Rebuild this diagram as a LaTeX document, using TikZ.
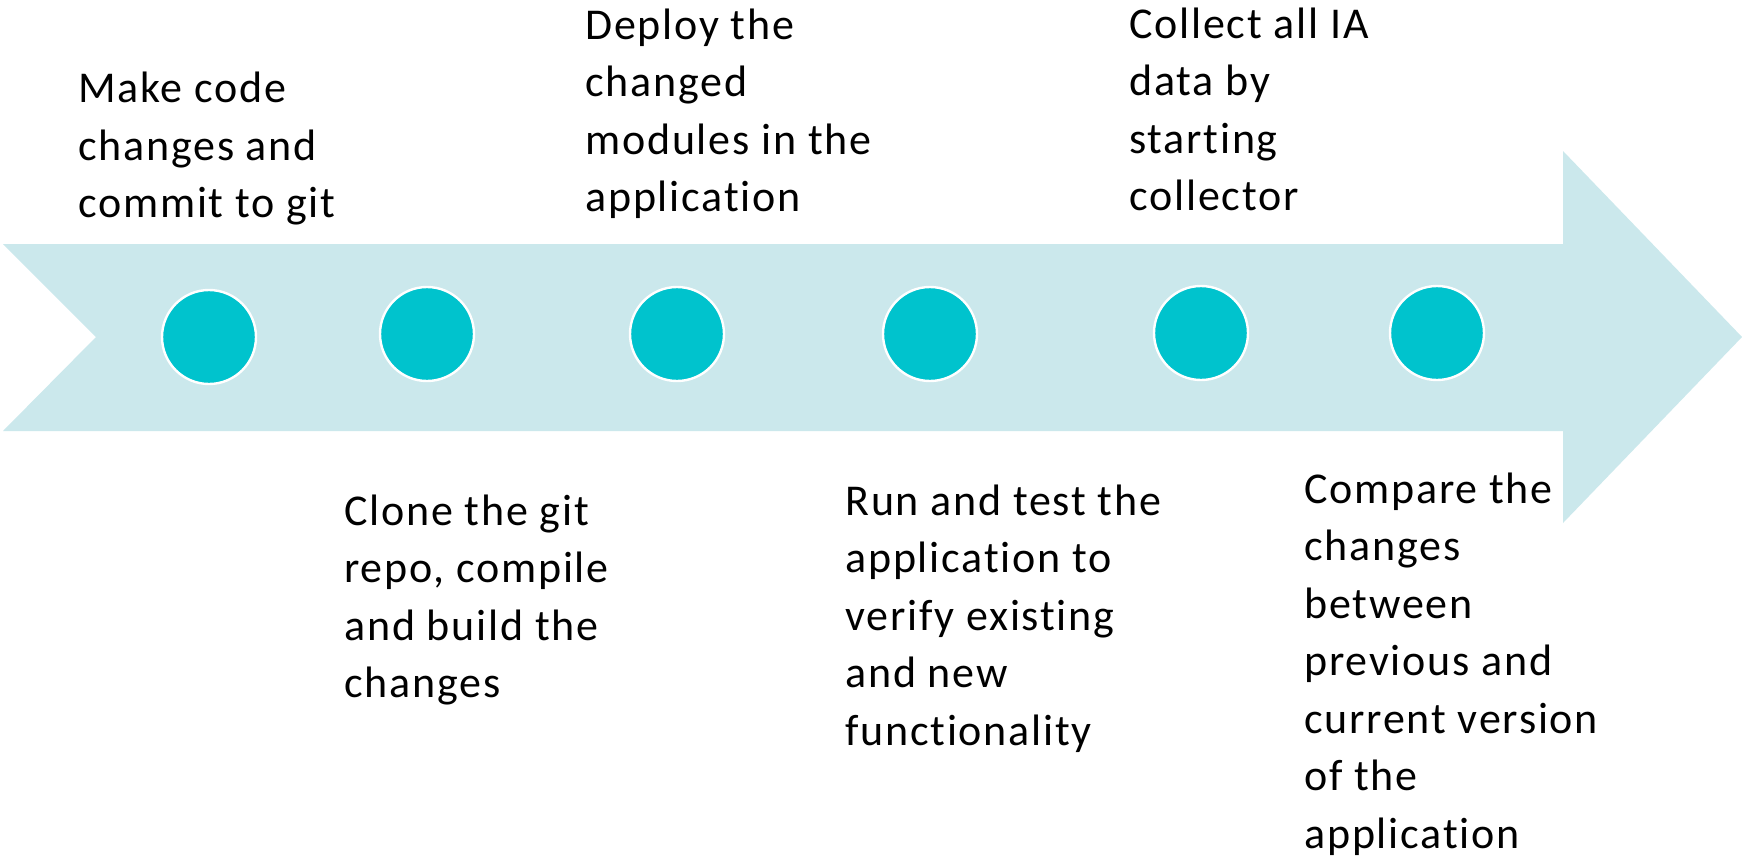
\documentclass[tikz,border=0pt]{standalone}
\usepackage{fontspec}
\setmainfont{Carlito}[Ligatures=NoCommon,LetterSpace=4]
\begin{document}
\begin{tikzpicture}[x=0.5pt,y=-0.5pt,
  band/.style={fill=bandcol,draw=none},
  dot/.style={circle,fill=dotcol,draw=white,line width=1.2pt,minimum size=47pt,inner sep=0pt},
  label/.style={anchor=base west,align=left,inner sep=0pt,font=\fontsize{22pt}{28.75pt}\selectfont,text=black}]
\definecolor{bandcol}{HTML}{CBE8EC}
\definecolor{dotcol}{HTML}{00C3CD}
\useasboundingbox (0,0) rectangle (1742,857);
\fill[white] (0,0) rectangle (1742,857);
\fill[band] (3,244) -- (1563,244) -- (1563,151) -- (1742,337) -- (1563,523) -- (1563,431) -- (3,431) -- (96,337) -- cycle;
\node[dot] (c1) at (209,337) {};
\node[dot] (c2) at (427,334) {};
\node[dot] (c3) at (677,334) {};
\node[dot] (c4) at (930,334) {};
\node[dot] (c5) at (1201,333) {};
\node[dot] (c6) at (1437,333) {};
\node[label] (t1) at (78,217.5) {Make code\\changes and\\commit to git};
\node[label] (t2) at (344,697.5) {Clone the git\\repo, compile\\and build the\\changes};
\node[label] (t3) at (585,211.5) {Deploy the\\changed\\modules in the\\application};
\node[label] (t4) at (845,745) {Run and test the\\application to\\verify existing\\and new\\functionality};
\node[label] (t5) at (1129,210.5) {Collect all IA\\data by\\starting\\collector};
\node[label] (t6) at (1304,848) {Compare the\\changes\\between\\previous and\\current version\\of the\\application};
\end{tikzpicture}
\end{document}
